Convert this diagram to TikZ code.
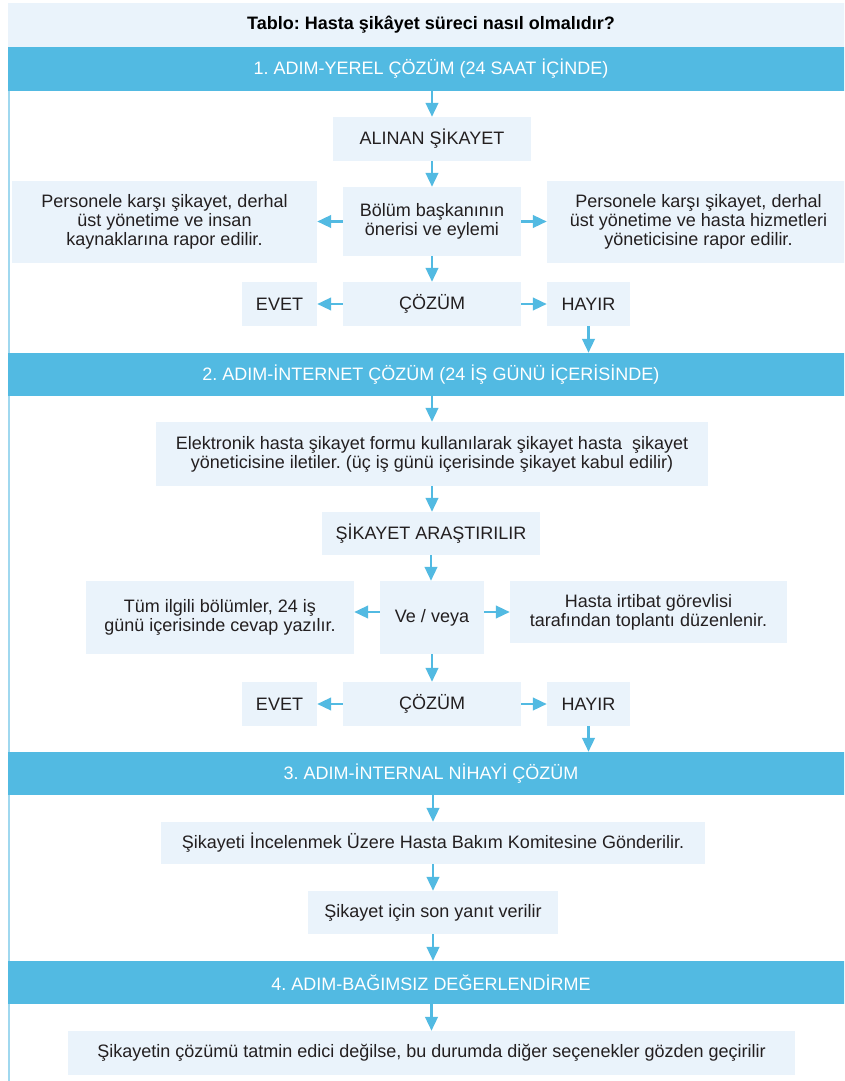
\documentclass[tikz,border=0pt]{standalone}
\usepackage{fontspec}
\setmainfont{Liberation Sans}
\usetikzlibrary{arrows.meta,calc}
\definecolor{barblue}{RGB}{82,186,226}
\definecolor{boxfill}{RGB}{234,243,251}
\definecolor{txt}{RGB}{35,31,32}
\definecolor{edgeblue}{RGB}{160,216,239}
\tikzset{
  box/.style={fill=boxfill, inner sep=0pt, align=center, text=txt,
    font=\fontsize{18}{19.2}\selectfont},
  bar/.style={fill=barblue, inner sep=0pt, text=white,
    font=\fontsize{18}{19.2}\selectfont},
  titlebox/.style={fill=boxfill, inner sep=0pt, text=black,
    font=\bfseries\fontsize{18}{19.2}\selectfont},
  flow/.style={draw=barblue, line width=2.6pt,
    -{Triangle[length=14pt,width=12.5pt]}},
}
% \mkbox[style]{name}{x1}{y1}{x2}{y2}{text}
\newcommand\mkbox[7][box]{%
  \node[#1, minimum width={(#5-#3)*1pt}, minimum height={(#6-#4)*1pt}]
    (#2) at ({(#3+#5)/2},{-(#4+#6)/2}) {#7};}
\begin{document}
\frenchspacing
\begin{tikzpicture}[x=1pt,y=1pt]
\useasboundingbox (0,0) rectangle (844,-1081);
\clip (0,0) rectangle (844,-1081);
\fill[white] (0,0) rectangle (844,-1081);
% left border
\fill[edgeblue] (8,-91) rectangle (10,-1081);
% title and bars
\mkbox[titlebox]{title}{8}{3}{854}{47}{Tablo: Hasta şikâyet süreci nasıl olmalıdır?}
\mkbox[bar]{bar1}{8}{47}{854}{91}{1. ADIM-YEREL ÇÖZÜM (24 SAAT İÇİNDE)}
\mkbox[bar]{bar2}{8}{353}{854}{396}{2. ADIM-İNTERNET ÇÖZÜM (24 İŞ GÜNÜ İÇERİSİNDE)}
\mkbox[bar]{bar3}{8}{752}{854}{795}{3. ADIM-İNTERNAL NİHAYİ ÇÖZÜM}
\mkbox[bar]{bar4}{8}{961}{854}{1004}{4. ADIM-BAĞIMSIZ DEĞERLENDİRME}
% step 1
\mkbox{alinan}{333}{117}{531}{161}{ALINAN ŞİKAYET}
\mkbox{bolum}{343}{187}{521}{256}{Bölüm başkanının\\önerisi ve eylemi}
\mkbox{left1}{12}{181}{317}{263}{Personele karşı şikayet, derhal\\üst yönetime ve insan\\kaynaklarına rapor edilir.}
\mkbox{right1}{547}{181}{850}{263}{Personele karşı şikayet, derhal\\üst yönetime ve hasta hizmetleri\\yöneticisine rapor edilir.}
\mkbox{cozum1}{343}{282}{521}{326}{ÇÖZÜM}
\mkbox{evet1}{242}{282}{317}{326}{EVET}
\mkbox{hayir1}{547}{282}{630}{326}{HAYIR}
% step 2
\mkbox{elek}{156}{422}{708}{486}{Elektronik hasta şikayet formu kullanılarak şikayet hasta\ \ şikayet\\yöneticisine iletiler. (üç iş günü içerisinde şikayet kabul edilir)}
\mkbox{arast}{322}{512}{540}{555}{ŞİKAYET ARAŞTIRILIR}
\mkbox{ve}{380}{581}{484}{654}{Ve / veya}
\mkbox{tum}{86}{581}{354}{654}{Tüm ilgili bölümler, 24 iş\\günü içerisinde cevap yazılır.}
\mkbox{hasta}{510}{581}{787}{643}{Hasta irtibat görevlisi\\tarafından toplantı düzenlenir.}
\mkbox{cozum2}{343}{682}{521}{726}{ÇÖZÜM}
\mkbox{evet2}{242}{682}{317}{726}{EVET}
\mkbox{hayir2}{547}{682}{630}{726}{HAYIR}
% step 3
\mkbox{incele}{161}{822}{705}{864}{Şikayeti İncelenmek Üzere Hasta Bakım Komitesine Gönderilir.}
\mkbox{sonyanit}{308}{891}{558}{934}{Şikayet için son yanıt verilir}
% step 4
\mkbox{son}{68}{1031}{795}{1075}{Şikayetin çözümü tatmin edici değilse, bu durumda diğer seçenekler gözden geçirilir}
% connectors
\draw[flow] (bar1.south -| alinan.north) -- (alinan.north);
\draw[flow] (alinan.south) -- (alinan.south |- bolum.north);
\draw[flow] (bolum.west) -- (bolum.west -| left1.east);
\draw[flow] (bolum.east) -- (bolum.east -| right1.west);
\draw[flow] (bolum.south) -- (bolum.south |- cozum1.north);
\draw[flow] (cozum1.west) -- (evet1.east);
\draw[flow] (cozum1.east) -- (hayir1.west);
\draw[flow] (hayir1.south) -- (hayir1.south |- bar2.north);
\draw[flow] (bar2.south -| elek.north) -- (elek.north);
\draw[flow] (elek.south) -- (elek.south |- arast.north);
\draw[flow] (arast.south) -- (arast.south |- ve.north);
\draw[flow] (ve.west |- hasta.west) -- (tum.east |- hasta.west);
\draw[flow] (ve.east |- hasta.west) -- (hasta.west);
\draw[flow] (ve.south) -- (ve.south |- cozum2.north);
\draw[flow] (cozum2.west) -- (evet2.east);
\draw[flow] (cozum2.east) -- (hayir2.west);
\draw[flow] (hayir2.south) -- (hayir2.south |- bar3.north);
\draw[flow] (bar3.south -| incele.north) -- (incele.north);
\draw[flow] (incele.south) -- (incele.south |- sonyanit.north);
\draw[flow] (sonyanit.south) -- (sonyanit.south |- bar4.north);
\draw[flow] (bar4.south -| son.north) -- (son.north);
\end{tikzpicture}
\end{document}
